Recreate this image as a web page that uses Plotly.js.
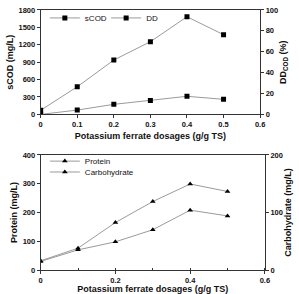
<!DOCTYPE html>
<html><head><meta charset="utf-8">
<script src="https://cdn.plot.ly/plotly-3.0.1.min.js"></script>
<style>html,body{margin:0;padding:0;background:#fff}#c{width:299px;height:294px}</style>
</head><body><div id="c"></div>
<script>
const dose = [0, 0.1, 0.2, 0.3, 0.4, 0.5];
const sCOD = [70, 476, 937, 1253, 1684, 1374];
const DD = [0, 4.1, 9.6, 13.4, 17.3, 14.4];
const protein = [32, 76, 165, 238, 299, 273];
const carbohydrate = [15, 35, 49, 70, 104, 94];

const F = "Liberation Sans, Arial, sans-serif";
const lineStyle = {color: '#9a9a9a', width: 1};
const sq = {symbol: 'square', size: 5, color: '#000'};
const tri = {symbol: 'triangle-up', size: 5, color: '#000'};

const traces = [
  {x: dose, y: sCOD, name: 'sCOD', mode: 'lines+markers', line: lineStyle, marker: sq, xaxis: 'x', yaxis: 'y', legend: 'legend'},
  {x: dose, y: DD, name: 'DD', mode: 'lines+markers', line: lineStyle, marker: sq, xaxis: 'x', yaxis: 'y2', legend: 'legend3'},
  {x: dose, y: protein, name: 'Protein', mode: 'lines+markers', line: lineStyle, marker: tri, xaxis: 'x2', yaxis: 'y3', legend: 'legend2'},
  {x: dose, y: carbohydrate, name: 'Carbohydrate', mode: 'lines+markers', line: lineStyle, marker: tri, xaxis: 'x2', yaxis: 'y4', legend: 'legend4'}
];

const tickF = {family: F, size: 7.5, color: '#111', weight: 'bold'};
const titleF = {family: F, size: 9, color: '#111', weight: 'bold'};
const ax = {showline: true, linecolor: '#333', linewidth: 1, ticks: 'outside', ticklen: 3, tickcolor: '#333',
  showgrid: false, zeroline: false, tickfont: tickF, fixedrange: true};
const legF = {family: F, size: 8, color: '#111111'};
function leg(x, y) {
  return {orientation: 'v', x: x, y: y, xanchor: 'left', yanchor: 'middle', bgcolor: 'rgba(0,0,0,0)',
    font: legF, itemwidth: 30, tracegroupgap: 0};
}

const layout = {
  width: 299, height: 294,
  margin: {l: 0, r: 0, t: 0, b: 0},
  paper_bgcolor: '#fff', plot_bgcolor: '#fff',
  font: {family: F, color: '#111111'},
  xaxis: Object.assign({}, ax, {domain: [0.136, 0.870], range: [0, 0.6], dtick: 0.1, mirror: true, anchor: 'y',
    title: {text: 'Potassium ferrate dosages (g/g TS)', font: titleF, standoff: 4}}),
  yaxis: Object.assign({}, ax, {domain: [0.611, 0.966], range: [0, 1800], dtick: 300, anchor: 'x',
    title: {text: 'sCOD (mg/L)', font: titleF, standoff: 3}}),
  yaxis2: Object.assign({}, ax, {overlaying: 'y', side: 'right', anchor: 'x', range: [0, 100], dtick: 20,
    title: {text: 'DD<sub>COD</sub> (%)', font: titleF, standoff: 2}}),
  xaxis2: Object.assign({}, ax, {domain: [0.136, 0.886], range: [0, 0.6], dtick: 0.2, mirror: true, anchor: 'y3',
    minor: {dtick: 0.1, ticks: 'inside', ticklen: 2, tickcolor: '#333'},
    title: {text: 'Potassium ferrate dosages (g/g TS)', font: titleF, standoff: 4}}),
  yaxis3: Object.assign({}, ax, {domain: [0.0816, 0.473], range: [0, 400], dtick: 100, anchor: 'x2',
    title: {text: 'Protein (mg/L)', font: titleF, standoff: 3}}),
  yaxis4: Object.assign({}, ax, {overlaying: 'y3', side: 'right', anchor: 'x2', range: [0, 200], dtick: 100,
    title: {text: 'Carbohydrate (mg/L)', font: titleF, standoff: 2}}),
  legend: leg(0.15, 0.939),
  legend3: leg(0.355, 0.939),
  legend2: leg(0.15, 0.452),
  legend4: leg(0.15, 0.415),
  showlegend: true
};

Plotly.newPlot('c', traces, layout, {displayModeBar: false, staticPlot: true});
</script>
</body></html>
